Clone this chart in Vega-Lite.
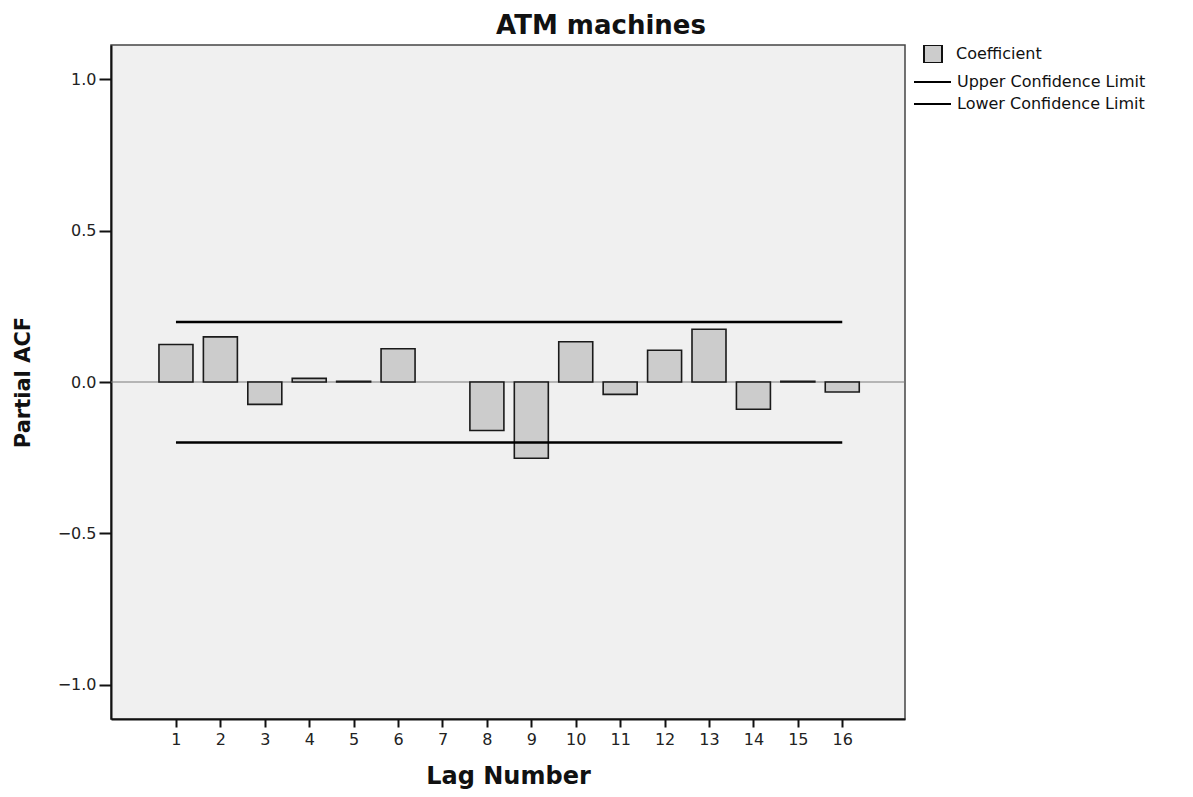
{
  "$schema": "https://vega.github.io/schema/vega-lite/v6.json",
  "autosize": {"type": "none"},
  "width": 794,
  "height": 674,
  "padding": {"left": 111, "top": 45, "right": 288, "bottom": 78},
  "background": "white",
  "title": {
    "text": "ATM machines",
    "font": "DejaVu Sans",
    "fontSize": 26,
    "fontWeight": "bold",
    "color": "#111",
    "anchor": "middle",
    "dx": 93,
    "offset": 6
  },
  "config": {
    "view": {"fill": "#f0f0f0", "stroke": "#444", "strokeWidth": 1.5},
    "font": "DejaVu Sans",
    "axis": {
      "grid": false,
      "domainColor": "#111",
      "domainWidth": 2,
      "tickColor": "#111",
      "tickWidth": 2,
      "labelFont": "DejaVu Sans",
      "labelFontSize": 16,
      "labelColor": "#222",
      "titleFont": "DejaVu Sans",
      "titleFontWeight": "bold",
      "titleColor": "#111"
    },
    "legend": {
      "labelFont": "DejaVu Sans",
      "labelFontSize": 16,
      "labelColor": "#111",
      "labelLimit": 400,
      "rowPadding": 0,
      "padding": 0,
      "symbolStrokeWidth": 2,
      "symbolOpacity": 1
    }
  },
  "datasets": {
    "pacf": [
      {"lag": 1, "value": 0.124, "series": "Coefficient"},
      {"lag": 2, "value": 0.149, "series": "Coefficient"},
      {"lag": 3, "value": -0.074, "series": "Coefficient"},
      {"lag": 4, "value": 0.012, "series": "Coefficient"},
      {"lag": 5, "value": 0.002, "series": "Coefficient"},
      {"lag": 6, "value": 0.11, "series": "Coefficient"},
      {"lag": 7, "value": null, "series": "Coefficient"},
      {"lag": 8, "value": -0.16, "series": "Coefficient"},
      {"lag": 9, "value": -0.252, "series": "Coefficient"},
      {"lag": 10, "value": 0.133, "series": "Coefficient"},
      {"lag": 11, "value": -0.041, "series": "Coefficient"},
      {"lag": 12, "value": 0.105, "series": "Coefficient"},
      {"lag": 13, "value": 0.174, "series": "Coefficient"},
      {"lag": 14, "value": -0.09, "series": "Coefficient"},
      {"lag": 15, "value": 0.002, "series": "Coefficient"},
      {"lag": 16, "value": -0.033, "series": "Coefficient"}
    ],
    "limits": [
      {"series": "Upper Confidence Limit", "start": 1, "end": 16, "value": 0.198},
      {"series": "Lower Confidence Limit", "start": 1, "end": 16, "value": -0.2}
    ],
    "zero": [{"value": 0}]
  },
  "layer": [
    {
      "data": {"name": "zero"},
      "mark": {"type": "rule", "color": "#7a7a7a", "strokeWidth": 1},
      "encoding": {
        "y": {"field": "value", "type": "quantitative", "scale": {"domain": [-1.113, 1.113], "nice": false, "zero": false}}
      }
    },
    {
      "data": {"name": "pacf"},
      "mark": {"type": "bar", "width": 34, "stroke": "#1a1a1a", "strokeWidth": 1.6},
      "encoding": {
        "x": {
          "field": "lag",
          "type": "quantitative",
          "scale": {"domain": [-0.35, 17.3], "nice": false, "zero": false},
          "axis": {
            "title": "Lag Number",
            "titleFontSize": 24,
            "titlePadding": 17,
            "values": [1, 2, 3, 4, 5, 6, 7, 8, 9, 10, 11, 12, 13, 14, 15, 16],
            "format": "d",
            "tickSize": 8,
            "labelPadding": 4
          }
        },
        "y": {
          "field": "value",
          "type": "quantitative",
          "scale": {"domain": [-1.113, 1.113], "nice": false, "zero": false},
          "axis": {
            "title": "Partial ACF",
            "titleFontSize": 21,
            "titlePadding": 24,
            "values": [-1, -0.5, 0, 0.5, 1],
            "format": ".1f",
            "tickSize": 12,
            "labelPadding": 3
          }
        },
        "fill": {
          "field": "series",
          "type": "nominal",
          "scale": {"domain": ["Coefficient"], "range": ["#cccccc"]},
          "legend": {
            "title": null,
            "orient": "right",
            "offset": 8,
            "clipHeight": 18,
            "symbolType": "square",
            "symbolSize": 324,
            "symbolOffset": 10,
            "symbolStrokeColor": "#111",
            "labelOffset": 13
          }
        }
      }
    },
    {
      "data": {"name": "limits"},
      "mark": {"type": "rule", "strokeWidth": 2.5},
      "encoding": {
        "x": {"field": "start", "type": "quantitative"},
        "x2": {"field": "end"},
        "y": {"field": "value", "type": "quantitative"},
        "stroke": {
          "field": "series",
          "type": "nominal",
          "scale": {"domain": ["Upper Confidence Limit", "Lower Confidence Limit"], "range": ["#000000", "#000000"]},
          "legend": {
            "title": null,
            "orient": "right",
            "offset": 8,
            "clipHeight": 22,
            "symbolType": "stroke",
            "symbolSize": 1369,
            "labelOffset": 5
          }
        }
      }
    }
  ]
}
